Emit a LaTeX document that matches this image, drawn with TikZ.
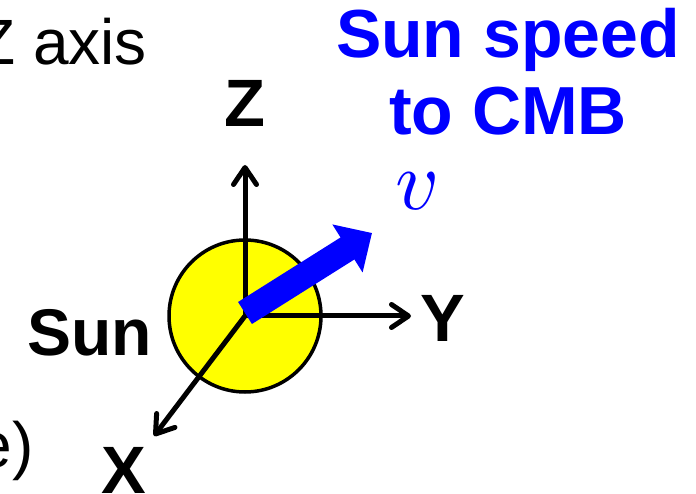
\documentclass[tikz,border=0pt]{standalone}
\usepackage{fontspec}
\setmainfont{Liberation Sans}
\usetikzlibrary{arrows.meta}
\definecolor{sunyellow}{RGB}{255,255,0}
\definecolor{pureblue}{RGB}{0,0,255}
\tikzset{
  axisline/.style={line width=5pt, -{Straight Barb[length=17pt,width=23pt,round]}},
  biglabel/.style={font=\fontsize{67}{67}\selectfont\bfseries, inner sep=0pt},
  bluelabel/.style={font=\fontsize{68}{68}\selectfont\bfseries, text=pureblue, inner sep=0pt},
  plainlabel/.style={font=\fontsize{64}{64}\selectfont, inner sep=0pt},
}
\begin{document}
\begin{tikzpicture}[x=1pt,y=1pt]
\useasboundingbox (0,0) rectangle (696,493);
% sun
\node[circle, draw=black, line width=3.5pt, fill=sunyellow, minimum size=152pt, inner sep=0pt] (sun) at (245,177) {};
\coordinate (O) at (245,177);
\coordinate (zt) at (245,328);
\coordinate (yt) at (411,177);
\coordinate (xt) at (154,57);
\draw[axisline] (O) -- (zt);
\draw[axisline] (O) -- (yt);
\draw[axisline] (O) -- (xt);
% velocity arrow
\coordinate (vs) at (245,180);
\coordinate (vt) at (372,260);
\draw[pureblue, line width=26pt, -{Triangle[length=29pt,width=55pt]}] (vs) -- (vt);
% labels
\node[plainlabel, anchor=base west] (zaxis) at (-24,428) {Z axis};
\node[plainlabel, anchor=base east] (epar) at (34,26) {e)};
\node[biglabel, anchor=base] (zlab) at (245,366) {Z};
\node[biglabel, anchor=base east, font=\fontsize{66}{66}\selectfont\bfseries] (sunlab) at (152,138) {Sun};
\node[biglabel, anchor=base west] (ylab) at (420,151) {Y};
\node[biglabel, anchor=base west] (xlab) at (101,0) {X};
\node[bluelabel, anchor=base] (sp1) at (508,435) {Sun speed};
\node[bluelabel, anchor=base] (sp2) at (508,358) {to CMB};
\node[text=pureblue, scale=8.5, inner sep=0pt, anchor=base] (vlab) at (418,283) {$v$};
\end{tikzpicture}
\end{document}
